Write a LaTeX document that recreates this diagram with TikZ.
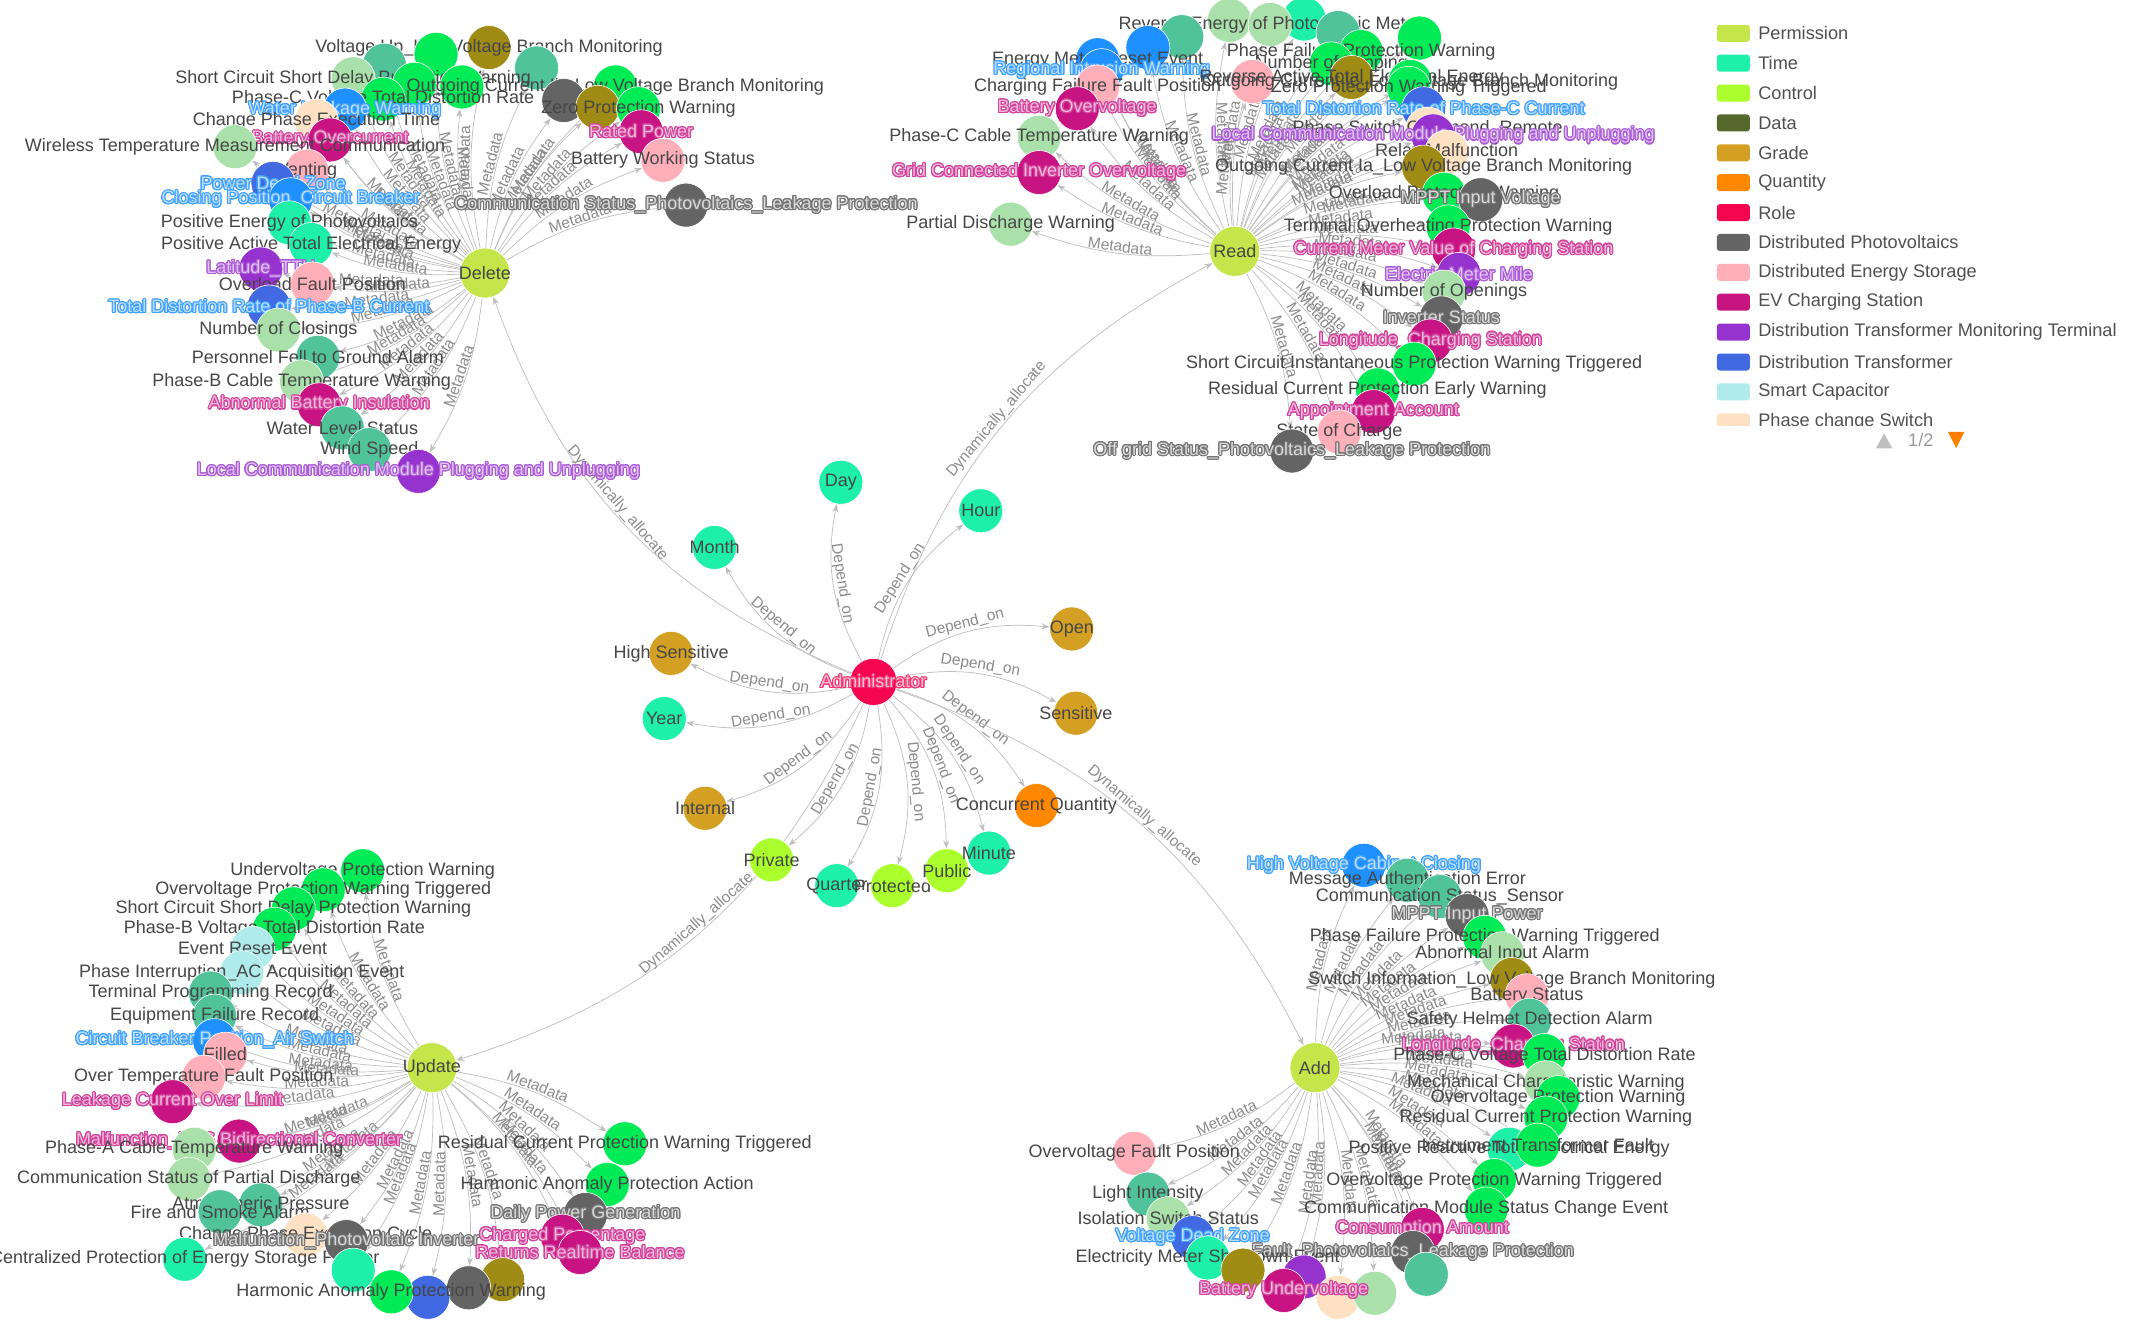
\documentclass[tikz,border=0pt]{standalone}
\usepackage{fontspec}
\setmainfont{Liberation Sans}
\usepackage[copies]{contour}
\usetikzlibrary{positioning,arrows.meta}
\contourlength{1.1pt}
\definecolor{permc}{RGB}{196,230,74}
\definecolor{timec}{RGB}{30,240,170}
\definecolor{ctrlc}{RGB}{170,255,45}
\definecolor{datac}{RGB}{85,105,45}
\definecolor{gradec}{RGB}{212,160,35}
\definecolor{quantc}{RGB}{255,136,0}
\definecolor{rolec}{RGB}{245,5,80}
\definecolor{pvc}{RGB}{100,100,100}
\definecolor{storc}{RGB}{255,175,185}
\definecolor{evc}{RGB}{200,20,130}
\definecolor{dtmtc}{RGB}{150,50,205}
\definecolor{dtc}{RGB}{65,105,225}
\definecolor{capc}{RGB}{175,235,235}
\definecolor{swc}{RGB}{255,225,195}
\definecolor{bgreenc}{RGB}{0,235,85}
\definecolor{palec}{RGB}{170,225,170}
\definecolor{seac}{RGB}{80,195,155}
\definecolor{olivec}{RGB}{160,140,20}
\definecolor{azc}{RGB}{30,144,255}
\definecolor{labc}{RGB}{70,70,70}
\definecolor{edgec}{RGB}{190,190,190}
\definecolor{mlabc}{RGB}{140,140,140}
\definecolor{legc}{RGB}{80,80,80}
\pgfdeclarelayer{bg}
\pgfsetlayers{bg,main}
% label looks per category
\newcommand\labtx[1]{\textcolor{labc}{#1}}
\newcommand\labev[1]{\contour{evc!80}{\textcolor{evc!30!white}{#1}}}
\newcommand\labdt[1]{\contour{azc!85}{\textcolor{azc!30!white}{#1}}}
\newcommand\labtm[1]{\contour{dtmtc!80}{\textcolor{dtmtc!30!white}{#1}}}
\newcommand\labpv[1]{\contour{pvc!90}{\textcolor{white!85!black}{#1}}}
\newcommand\labrole[1]{\contour{rolec!80}{\textcolor{rolec!25!white}{#1}}}

\begin{document}
\begin{tikzpicture}[
x=1.3584pt, y=-1.3584pt,
leaf/.style={circle, draw=white, line width=0.6pt, minimum size=44pt, inner sep=0pt},
hub/.style={leaf, minimum size=50pt, fill=permc},
lab/.style={font=\fontsize{18}{20}\selectfont, text=labc, inner sep=0pt},
meta/.style={draw=edgec, line width=0.7pt, -{Stealth[length=8pt,width=6pt]}},
mlab/.style={font=\fontsize{15.5}{17}\selectfont, text=mlabc, sloped, above, inner sep=1pt},
swatch/.style={rectangle, rounded corners=3pt, minimum width=33pt, minimum height=17pt, inner sep=0pt},
legtxt/.style={font=\fontsize{18.2}{20}\selectfont, text=legc, inner sep=0pt}
]
\useasboundingbox (0,0) rectangle (1568,973);
\begin{pgfonlayer}{bg}
\fill[white] (0,0) rectangle (1568,973);
\end{pgfonlayer}

% hubs and role
\node[hub, label={[lab]center:Delete}] (D) at (357,201) {};
\node[hub, label={[lab]center:Read}] (R) at (909,185) {};
\node[hub, label={[lab]center:Update}] (U) at (318,786) {};
\node[hub, label={[lab]center:Add}] (A) at (968,786) {};

% attributes of the role
\node[leaf, fill=timec, label={[lab]center:Day}] (day) at (619,355) {};
\node[leaf, fill=timec, label={[lab]center:Hour}] (hour) at (722,376) {};
\node[leaf, fill=timec, label={[lab]center:Month}] (month) at (526,403) {};
\node[leaf, fill=gradec, label={[lab]center:Open}] (open) at (789,463) {};
\node[leaf, fill=gradec, label={[lab]center:High Sensitive}] (hsen) at (494,481) {};
\node[leaf, fill=timec, label={[lab]center:Year}] (year) at (489,529) {};
\node[leaf, fill=gradec, label={[lab]center:Sensitive}] (sens) at (792,525) {};
\node[leaf, fill=gradec, label={[lab]center:Internal}] (intl) at (519,595) {};
\node[leaf, fill=quantc, label={[lab]center:Concurrent Quantity}] (conc) at (763,593) {};
\node[leaf, fill=ctrlc, label={[lab]center:Private}] (priv) at (568,633) {};
\node[leaf, fill=timec, label={[lab]center:Quarter}] (quart) at (616,652) {};
\node[leaf, fill=ctrlc, label={[lab]center:Protected}] (prot) at (657,652) {};
\node[leaf, fill=ctrlc, label={[lab]center:Public}] (pub) at (697,641) {};
\node[leaf, fill=timec, label={[lab]center:Minute}] (minute) at (728,628) {};
\node[leaf, minimum size=47pt, fill=rolec, label={[lab]center:\labrole{Administrator}}] (adm) at (643,502) {};

\begin{pgfonlayer}{bg}
\foreach \n in {day,hour,month,open,hsen,year,sens,intl,conc,priv,quart,prot,pub,minute}
  \draw[meta] (adm) to[bend left=20] node[mlab]{Depend\_on} (\n);
\draw[meta] (adm) to[bend left=24] node[mlab, pos=0.55]{Dynamically\_allocate} (D);
\draw[meta] (adm) to[bend left=22] node[mlab]{Dynamically\_allocate} (R);
\draw[meta] (adm) to[bend left=24] node[mlab]{Dynamically\_allocate} (U);
\draw[meta] (adm) to[bend left=22] node[mlab]{Dynamically\_allocate} (A);
\end{pgfonlayer}

% Delete
\foreach \x/\y/\c/\s/\t [count=\i] in {
360/35/olivec/labtx/{Voltage Up\_Low Voltage Branch Monitoring},
321/40/bgreenc/labtx/{},
283/48/seac/labtx/{},
395/50/seac/labtx/{},
260/58/palec/labtx/{Short Circuit Short Delay Protection Warning},
305/62/bgreenc/labtx/{},
340/64/bgreenc/labtx/{},
453/64/bgreenc/labtx/{Outgoing Current Ib\_Low Voltage Branch Monitoring},
415/74/pvc/labtx/{},
440/79/olivec/labtx/{},
282/73/bgreenc/labtx/{Phase-C Voltage Total Distortion Rate},
470/80/bgreenc/labtx/{Zero Protection Warning},
254/81/azc/labdt/{Water Leakage Warning},
233/89/swc/labtx/{Change Phase Execution Time},
472/97/evc/labev/{Rated Power},
243/103/evc/labev/{Battery Overcurrent},
173/108/palec/labtx/{Wireless Temperature Measurement Communication},
488/118/storc/labtx/{Battery Working Status},
226/126/storc/labtx/{Venting},
201/135/dtc/labdt/{Power Dead Zone},
505/151/pvc/labpv/{Communication Status\_Photovoltaics\_Leakage Protection},
214/147/azc/labdt/{Closing Position\_Circuit Breaker},
213/164/timec/labtx/{Positive Energy of Photovoltaics},
229/180/timec/labtx/{Positive Active Total Electrical Energy},
192/198/dtmtc/labtm/{Latitude\_TTU},
230/209/storc/labtx/{Overload Fault Position},
198/226/dtc/labdt/{Total Distortion Rate of Phase-B Current},
205/243/palec/labtx/{Number of Closings},
234/263/seac/labtx/{Personnel Fell to Ground Alarm},
222/281/palec/labtx/{Phase-B Cable Temperature Warning},
235/298/evc/labev/{Abnormal Battery Insulation},
252/315/seac/labtx/{Water Level Status},
272/331/seac/labtx/{Wind Speed},
308/347/dtmtc/labtm/{Local Communication Module Plugging and Unplugging}}{
  \node[leaf, fill=\c] (D\i) at (\x,\y) {};
  \node[lab] at (D\i) {\csname\s\endcsname{\t}};
  \begin{pgfonlayer}{bg}
  \draw[meta] (D) to[bend left=12] node[mlab]{Metadata} (D\i);
  \end{pgfonlayer}
}

% Read
\foreach \x/\y/\c/\s/\t [count=\i] in {
905/15/palec/labtx/{},
960/14/timec/labtx/{},
935/18/palec/labtx/{Reverse Energy of Photovoltaic Meter},
985/24/seac/labtx/{},
870/27/seac/labtx/{},
1045/28/bgreenc/labtx/{},
845/35/azc/labtx/{},
1002/38/bgreenc/labtx/{Phase Failure Protection Warning},
808/44/azc/labtx/{Energy Meter Reset Event},
980/47/bgreenc/labtx/{Number of Tripping},
811/52/azc/labdt/{Regional Intrusion Warning},
922/60/storc/labtx/{},
995/57/olivec/labtx/{Reverse Active Total Electrical Energy},
1038/60/bgreenc/labtx/{Outgoing Current Ic\_Low Voltage Branch Monitoring},
1037/65/bgreenc/labtx/{Zero Protection Warning Triggered},
808/64/storc/labtx/{Charging Failure Fault Position},
793/80/evc/labev/{Battery Overvoltage},
1048/80/dtc/labdt/{Total Distortion Rate of Phase-C Current},
1051/95/swc/labtx/{Phase Switch Command\_Remote},
765/101/palec/labtx/{Phase-C Cable Temperature Warning},
1055/100/dtmtc/labtm/{Local Communication Module Plugging and Unplugging},
1065/112/swc/labtx/{Relay Malfunction},
1048/123/olivec/labtx/{Outgoing Current Ia\_Low Voltage Branch Monitoring},
765/127/evc/labev/{Grid Connected Inverter Overvoltage},
1063/143/bgreenc/labtx/{Overload Protection Warning},
1090/147/pvc/labpv/{MPPT Input Voltage},
744/165/palec/labtx/{Partial Discharge Warning},
1066/167/bgreenc/labtx/{Terminal Overheating Protection Warning},
1070/184/evc/labev/{Current Meter Value of Charging Station},
1074/202/dtmtc/labtm/{Electric Meter Mile},
1063/215/palec/labtx/{Number of Openings},
1061/234/pvc/labpv/{Inverter Status},
1053/251/evc/labev/{Longitude\_Charging Station},
1041/268/bgreenc/labtx/{Short Circuit Instantaneous Protection Warning Triggered},
1014/287/bgreenc/labtx/{Residual Current Protection Early Warning},
1011/303/evc/labev/{Appointment Account},
986/318/storc/labtx/{State of Charge},
951/332/pvc/labpv/{Off grid Status\_Photovoltaics\_Leakage Protection}}{
  \node[leaf, fill=\c] (R\i) at (\x,\y) {};
  \node[lab] at (R\i) {\csname\s\endcsname{\t}};
  \begin{pgfonlayer}{bg}
  \draw[meta] (R) to[bend left=12] node[mlab]{Metadata} (R\i);
  \end{pgfonlayer}
}

% Update
\foreach \x/\y/\c/\s/\t [count=\i] in {
267/641/bgreenc/labtx/{Undervoltage Protection Warning},
238/655/bgreenc/labtx/{Overvoltage Protection Warning Triggered},
216/669/bgreenc/labtx/{Short Circuit Short Delay Protection Warning},
202/684/bgreenc/labtx/{Phase-B Voltage Total Distortion Rate},
186/698/capc/labtx/{Event Reset Event},
178/716/capc/labtx/{Phase Interruption\_AC Acquisition Event},
155/731/seac/labtx/{Terminal Programming Record},
158/748/seac/labtx/{Equipment Failure Record},
158/766/azc/labdt/{Circuit Breaker Position\_Air Switch},
166/776/storc/labtx/{Filled},
150/793/storc/labtx/{Over Temperature Fault Position},
127/811/evc/labev/{Leakage Current Over Limit},
176/840/evc/labev/{Malfunction\_PCS Bidirectional Converter},
143/846/palec/labtx/{Phase-A Cable Temperature Warning},
139/868/palec/labtx/{Communication Status of Partial Discharge},
192/887/seac/labtx/{Atmospheric Pressure},
162/892/seac/labtx/{Fire and Smoke Alarm},
225/909/swc/labtx/{Change Phase Execution Cycle},
136/927/timec/labtx/{Centralized Protection of Energy Storage Feeder},
255/914/pvc/labpv/{Malfunction\_Photovoltaic Inverter},
460/842/bgreenc/labtx/{Residual Current Protection Warning Triggered},
447/872/bgreenc/labtx/{Harmonic Anomaly Protection Action},
431/894/pvc/labpv/{Daily Power Generation},
414/910/evc/labev/{Charged Percentage},
427/922/evc/labev/{Returns Realtime Balance},
260/935/timec/labtx/{},
370/942/olivec/labtx/{},
345/948/pvc/labtx/{},
315/955/dtc/labtx/{},
288/951/bgreenc/labtx/{Harmonic Anomaly Protection Warning}}{
  \node[leaf, fill=\c] (U\i) at (\x,\y) {};
  \node[lab] at (U\i) {\csname\s\endcsname{\t}};
  \begin{pgfonlayer}{bg}
  \draw[meta] (U) to[bend left=12] node[mlab]{Metadata} (U\i);
  \end{pgfonlayer}
}

% Add
\foreach \x/\y/\c/\s/\t [count=\i] in {
1004/637/azc/labdt/{High Voltage Cabinet Closing},
1036/648/seac/labtx/{Message Authentication Error},
1060/660/seac/labtx/{Communication Status\_Sensor},
1080/674/pvc/labpv/{MPPT Input Power},
1093/690/bgreenc/labtx/{Phase Failure Protection Warning Triggered},
1106/702/palec/labtx/{Abnormal Input Alarm},
1113/721/olivec/labtx/{Switch Information\_Low Voltage Branch Monitoring},
1124/733/storc/labtx/{Battery Status},
1126/751/seac/labtx/{Safety Helmet Detection Alarm},
1114/770/evc/labev/{Longitude\_Charging Station},
1137/777/bgreenc/labtx/{Phase-C Voltage Total Distortion Rate},
1138/797/palec/labtx/{Mechanical Characteristic Warning},
1147/808/bgreenc/labtx/{Overvoltage Protection Warning},
1138/823/bgreenc/labtx/{Residual Current Protection Warning},
1111/846/timec/labtx/{Positive Reactive Total Electrical Energy},
1132/843/bgreenc/labtx/{Instrument Transformer Fault},
1100/869/bgreenc/labtx/{Overvoltage Protection Warning Triggered},
1094/890/bgreenc/labtx/{Communication Module Status Change Event},
1047/905/evc/labev/{Consumption Amount},
1040/922/pvc/labpv/{Fault\_Photovoltaics\_Leakage Protection},
835/849/storc/labtx/{Overvoltage Fault Position},
845/879/seac/labtx/{Light Intensity},
860/897/palec/labtx/{Isolation Switch Status},
878/911/dtc/labdt/{Voltage Dead Zone},
889/926/timec/labtx/{Electricity Meter Shutdown Event},
915/935/olivec/labtx/{},
960/940/dtmtc/labtx/{},
1050/938/seac/labtx/{},
985/955/swc/labtx/{},
1012/952/palec/labtx/{},
945/950/evc/labev/{Battery Undervoltage}}{
  \node[leaf, fill=\c] (A\i) at (\x,\y) {};
  \node[lab] at (A\i) {\csname\s\endcsname{\t}};
  \begin{pgfonlayer}{bg}
  \draw[meta] (A) to[bend left=12] node[mlab]{Metadata} (A\i);
  \end{pgfonlayer}
}

% legend
\begin{scope}
\clip (1240,0) rectangle (1568,313);
\foreach \t/\c [count=\i from 0] in {Permission/permc, Time/timec, Control/ctrlc, Data/datac, Grade/gradec, Quantity/quantc, Role/rolec, Distributed Photovoltaics/pvc, Distributed Energy Storage/storc, EV Charging Station/evc, Distribution Transformer Monitoring Terminal/dtmtc, Distribution Transformer/dtc, Smart Capacitor/capc, Phase change Switch/swc}{
  \node[swatch, fill=\c] (sw\i) at (1276,{24.5+22*\i}) {};
  \node[legtxt, right=8pt of sw\i] (lg\i) {\t};
}
\end{scope}
\fill[gray!50] (1381,330) -- (1393,330) -- (1387,319) -- cycle;
\node[legtxt, text=gray!80] (page) at (1414,324) {1/2};
\fill[orange] (1434,318) -- (1446,318) -- (1440,330) -- cycle;
\end{tikzpicture}
\end{document}
